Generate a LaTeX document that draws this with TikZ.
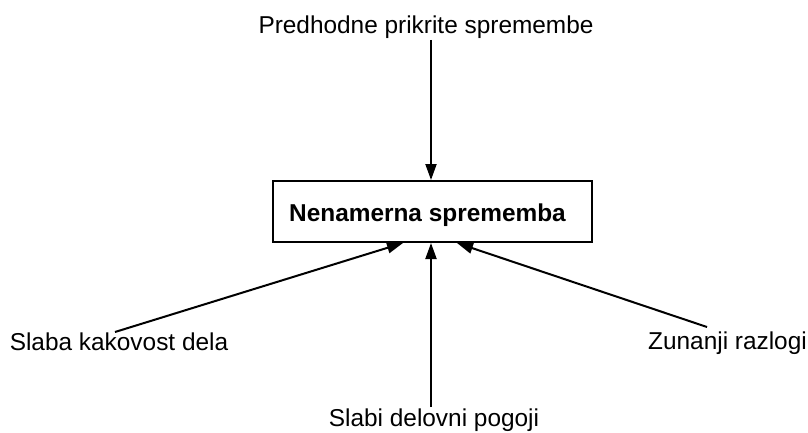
\documentclass[tikz,border=0pt]{standalone}
\usepackage{fontspec}
\setmainfont{Liberation Sans}
\usetikzlibrary{arrows.meta}
\begin{document}
\begin{tikzpicture}[x=1pt,y=-1pt,
  lbl/.style={font=\fontsize{24.4}{28}\selectfont, inner sep=0pt, anchor=base},
  mainbox/.style={draw, line width=2pt, minimum width=319pt, minimum height=61pt,
    inner sep=0pt},
  link/.style={line width=2pt, -{Triangle[length=16pt,width=11pt]}}]
  \useasboundingbox (0,0) rectangle (808,433);
  % central event
  \node[mainbox] (box) at (432.5,211.5) {};
  \node[lbl, font=\fontsize{24.4}{28}\selectfont\bfseries] (title) at (427.5,221) {Nenamerna sprememba};
  % causes
  \node[lbl] (top) at (426,34) {Predhodne prikrite spremembe};
  \node[lbl] (left) at (119,350) {Slaba kakovost dela};
  \node[lbl] (right) at (727.5,349) {Zunanji razlogi};
  \node[lbl] (bottom) at (434,426) {Slabi delovni pogoji};
  % connector ends
  \coordinate (topS) at (431,40);
  \coordinate (topT) at (431,180);
  \coordinate (leftS) at (115,332);
  \coordinate (leftT) at (403,243);
  \coordinate (botS) at (431,407);
  \coordinate (botT) at (431,243);
  \coordinate (rightS) at (707,327);
  \coordinate (rightT) at (457,243);
  \draw[link] (topS) -- (topT);
  \draw[link] (leftS) -- (leftT);
  \draw[link] (botS) -- (botT);
  \draw[link] (rightS) -- (rightT);
\end{tikzpicture}
\end{document}
